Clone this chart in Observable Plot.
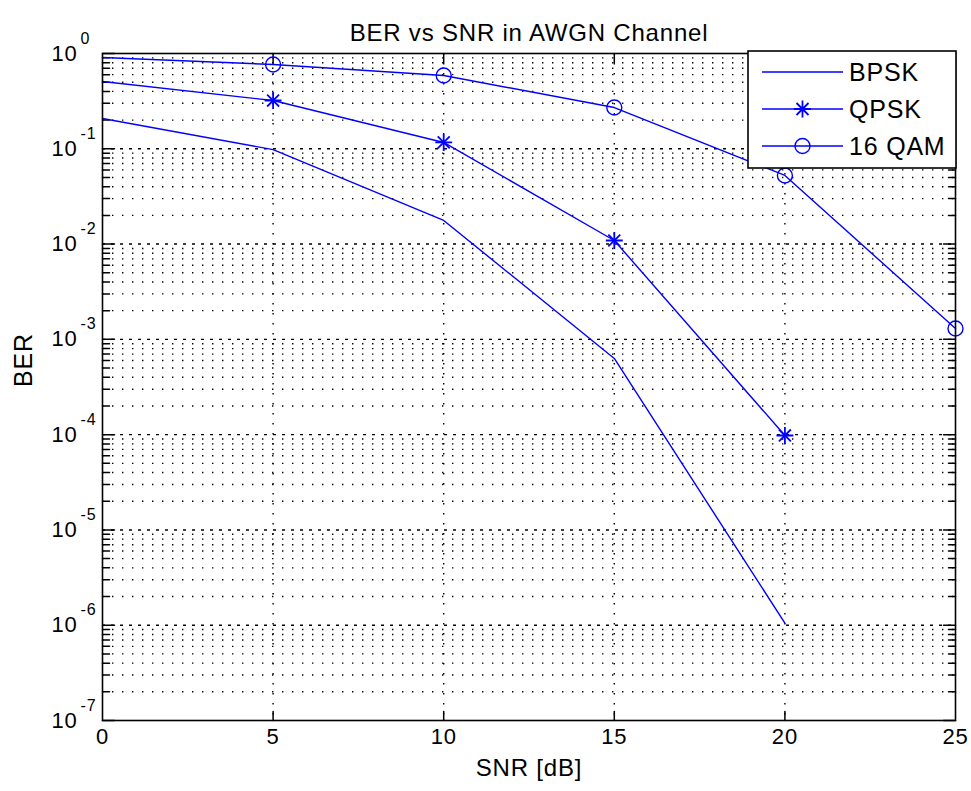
<!DOCTYPE html>
<html><head><meta charset="utf-8">
<script src="https://cdn.jsdelivr.net/npm/d3@7"></script>
<script src="https://cdn.jsdelivr.net/npm/@observablehq/plot@0.6"></script>
<style>
html,body{margin:0;padding:0;background:#fff;overflow:hidden;}
</style>
</head><body><div id="chart"></div>
<script>
// ---- data ----
const snr = [0, 5, 10, 15, 20, 25];
const berBPSK = [0.208, 0.098, 0.0177, 6.3e-4, 1.05e-6];
const berQPSK = [0.508, 0.321, 0.1165, 0.0109, 9.8e-5];
const berQAM16 = [0.908, 0.767, 0.588, 0.271, 0.0525, 1.30e-3];
const seriesNames = ["BPSK", "QPSK", "16 QAM"];
const xTicks = [0, 5, 10, 15, 20, 25];
const yExponents = [0, -1, -2, -3, -4, -5, -6, -7];
const titleText = "BER vs SNR in AWGN Channel";
const xLabel = "SNR [dB]";
const yLabel = "BER";

(function () {
const rows = [];
[berBPSK, berQPSK, berQAM16].forEach((arr, i) =>
  arr.forEach((v, j) => rows.push({series: seriesNames[i], snr: snr[j], ber: v})));
const qpskMarks = rows.filter(d => d.series === "QPSK" && d.snr > 0);
const qamMarks = rows.filter(d => d.series === "16 QAM" && d.snr > 0);

const decades = yExponents.map(e => Math.pow(10, e));
const minors = [];
for (let e = d3.min(yExponents); e < d3.max(yExponents); e++)
  for (let m = 2; m <= 9; m++) minors.push(m * Math.pow(10, e));
const xMin = d3.min(xTicks), xMax = d3.max(xTicks);
const innerX = xTicks.filter(t => t > xMin && t < xMax);
const innerDecades = decades.filter((d, i) => i > 0 && i < decades.length - 1);

const tickShape = {draw(ctx, l) { ctx.moveTo(0, 0); ctx.lineTo(0, -l); }};
const blue = "#0000ff";
const gridStyle = {stroke: "#000", strokeWidth: 1.4, strokeDasharray: "1.4 8.6"};

const chart = Plot.plot({
  width: 971, height: 791,
  marginLeft: 102, marginRight: 16, marginTop: 53, marginBottom: 71,
  style: {fontFamily: "'Liberation Sans', Arial, sans-serif", background: "#fff", color: "#000"},
  x: {domain: [xMin, xMax], axis: null},
  y: {type: "log", domain: [d3.min(decades), d3.max(decades)], axis: null},
  marks: [
    Plot.ruleY(minors, gridStyle),
    Plot.ruleY(innerDecades, {stroke: "#000", strokeWidth: 1.4, strokeDasharray: "3 6"}),
    Plot.ruleX(innerX, gridStyle),
    // ticks (inside)
    Plot.vector(innerX, {x: d => d, frameAnchor: "bottom", length: 9, rotate: 0, anchor: "start", shape: tickShape, stroke: "#000", strokeWidth: 1.5}),
    Plot.vector(innerX, {x: d => d, frameAnchor: "top", length: 9, rotate: 180, anchor: "start", shape: tickShape, stroke: "#000", strokeWidth: 1.5}),
    Plot.vector(minors, {y: d => d, frameAnchor: "left", length: 7, rotate: 90, anchor: "start", shape: tickShape, stroke: "#000", strokeWidth: 1.5}),
    Plot.vector(minors, {y: d => d, frameAnchor: "right", length: 7, rotate: -90, anchor: "start", shape: tickShape, stroke: "#000", strokeWidth: 1.5}),
    Plot.vector(decades, {y: d => d, frameAnchor: "left", length: 12, rotate: 90, anchor: "start", shape: tickShape, stroke: "#000", strokeWidth: 1.5}),
    Plot.vector(decades, {y: d => d, frameAnchor: "right", length: 12, rotate: -90, anchor: "start", shape: tickShape, stroke: "#000", strokeWidth: 1.5}),
    // data
    Plot.line(rows, {x: "snr", y: "ber", z: "series", stroke: blue, strokeWidth: 1.4}),
    Plot.dot(qpskMarks, {x: "snr", y: "ber", symbol: "plus", r: 5.5, stroke: blue, strokeWidth: 1.8}),
    Plot.dot(qpskMarks, {x: "snr", y: "ber", symbol: "times", r: 5.5, stroke: blue, strokeWidth: 1.8}),
    Plot.dot(qamMarks, {x: "snr", y: "ber", symbol: "circle", r: 7.5, stroke: blue, fill: "none", strokeWidth: 1.4}),
    Plot.frame({stroke: "#000", strokeWidth: 1.6}),
    // tick labels
    Plot.text(xTicks, {x: d => d, frameAnchor: "bottom", dy: 23, text: d => String(d), fontSize: 22, fill: "#000"}),
    Plot.text(decades, {y: d => d, frameAnchor: "left", dx: -25, textAnchor: "end", text: () => "10", fontSize: 22, fill: "#000"}),
    Plot.text(decades, {y: d => d, frameAnchor: "left", dx: -22, dy: -15, textAnchor: "start", text: d => String(Math.round(Math.log10(d))), fontSize: 16, fill: "#000"}),
    // title and axis labels
    Plot.text([titleText], {frameAnchor: "top", dy: -30, text: d => d, fontSize: 24, fill: "#000"}),
    Plot.text([xLabel], {frameAnchor: "bottom", dy: 55, text: d => d, fontSize: 24, fill: "#000"}),
    Plot.text([yLabel], {frameAnchor: "left", dx: -79, rotate: -90, text: d => d, fontSize: 25, fill: "#000"})
  ]
});
chart.style.letterSpacing = "0.8px";

// legend box (drawn in pixel space relative to the plot frame)
const xr = chart.scale("x").range, yr = chart.scale("y").range;
const frameRight = Math.max(...xr), frameTop = Math.min(...yr);
const lg = d3.select(chart).append("g").attr("text-anchor", "start");
lg.append("rect").attr("x", frameRight - 207).attr("y", frameTop - 2).attr("width", 208).attr("height", 117)
  .attr("fill", "#fff").attr("stroke", "#000").attr("stroke-width", 1.6);
seriesNames.forEach((name, i) => {
  const cy = frameTop + 19 + i * 37;
  const x0 = frameRight - 193, x1 = frameRight - 112, xm = (x0 + x1) / 2;
  lg.append("line").attr("x1", x0).attr("x2", x1).attr("y1", cy).attr("y2", cy)
    .attr("stroke", blue).attr("stroke-width", 1.4);
  if (i === 1) {
    const a = 8.4, b = 6;
    lg.append("path").attr("d", `M${xm - a},${cy}H${xm + a}M${xm},${cy - a}V${cy + a}M${xm - b},${cy - b}L${xm + b},${cy + b}M${xm - b},${cy + b}L${xm + b},${cy - b}`)
      .attr("stroke", blue).attr("stroke-width", 1.8).attr("fill", "none");
  } else if (i === 2) {
    lg.append("circle").attr("cx", xm).attr("cy", cy).attr("r", 7.5)
      .attr("stroke", blue).attr("stroke-width", 1.4).attr("fill", "none");
  }
  lg.append("text").attr("x", frameRight - 106).attr("y", cy + 9).attr("font-size", 25)
    .attr("text-anchor", "start").attr("fill", "#000").text(name);
});
document.getElementById("chart").appendChild(chart);
})();
</script>
</body></html>
